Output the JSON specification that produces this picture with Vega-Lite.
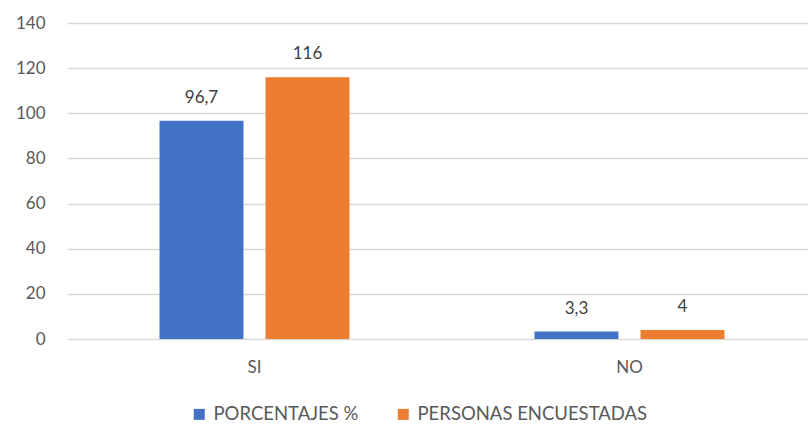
{
  "$schema": "https://vega.github.io/schema/vega-lite/v6.json",
  "width": 750,
  "height": 316,
  "autosize": {"type": "none"},
  "padding": {"left": 67, "top": 23, "right": 0, "bottom": 86},
  "background": "white",
  "config": {
    "font": "Lato",
    "view": {"stroke": null},
    "locale": {
      "number": {"decimal": ",", "thousands": ".", "grouping": [3], "currency": ["", " €"]}
    }
  },
  "data": {
    "values": [
      {"respuesta": "SI", "serie": "PORCENTAJES %", "valor": 96.7},
      {"respuesta": "SI", "serie": "PERSONAS ENCUESTADAS", "valor": 116},
      {"respuesta": "NO", "serie": "PORCENTAJES %", "valor": 3.3},
      {"respuesta": "NO", "serie": "PERSONAS ENCUESTADAS", "valor": 4}
    ]
  },
  "encoding": {
    "x": {
      "field": "respuesta",
      "type": "nominal",
      "sort": ["SI", "NO"],
      "scale": {"paddingInner": 0.4933, "paddingOuter": 0.2467},
      "axis": {
        "title": null,
        "labelAngle": 0,
        "domain": false,
        "ticks": false,
        "labelFontSize": 17,
        "labelColor": "#595959",
        "labelPadding": 20
      }
    },
    "xOffset": {
      "field": "serie",
      "type": "nominal",
      "sort": ["PORCENTAJES %", "PERSONAS ENCUESTADAS"],
      "scale": {"paddingInner": 0.208, "paddingOuter": 0}
    },
    "y": {
      "field": "valor",
      "type": "quantitative",
      "scale": {"domain": [0, 140], "nice": false},
      "axis": {
        "title": null,
        "values": [0, 20, 40, 60, 80, 100, 120, 140],
        "domain": false,
        "ticks": false,
        "grid": true,
        "gridColor": "#d9d9d9",
        "gridWidth": 1.3,
        "labelFontSize": 17,
        "labelColor": "#595959",
        "labelPadding": 22
      }
    }
  },
  "layer": [
    {
      "mark": {"type": "bar"},
      "encoding": {
        "color": {
          "field": "serie",
          "type": "nominal",
          "sort": ["PORCENTAJES %", "PERSONAS ENCUESTADAS"],
          "scale": {"range": ["#4472C4", "#ED7D31"]},
          "legend": {
            "title": null,
            "orient": "none",
            "legendX": 123,
            "legendY": 382,
            "direction": "horizontal",
            "symbolType": "square",
            "symbolSize": 121,
            "symbolStrokeWidth": 0,
            "labelFontSize": 18.5,
            "labelLimit": 400,
            "labelColor": "#595959",
            "labelOffset": 5,
            "columnPadding": 35
          }
        }
      }
    },
    {
      "mark": {"type": "text", "baseline": "bottom", "dy": -14, "fontSize": 17, "color": "#404040"},
      "encoding": {
        "text": {"field": "valor", "type": "quantitative", "format": "~g"}
      }
    }
  ]
}
